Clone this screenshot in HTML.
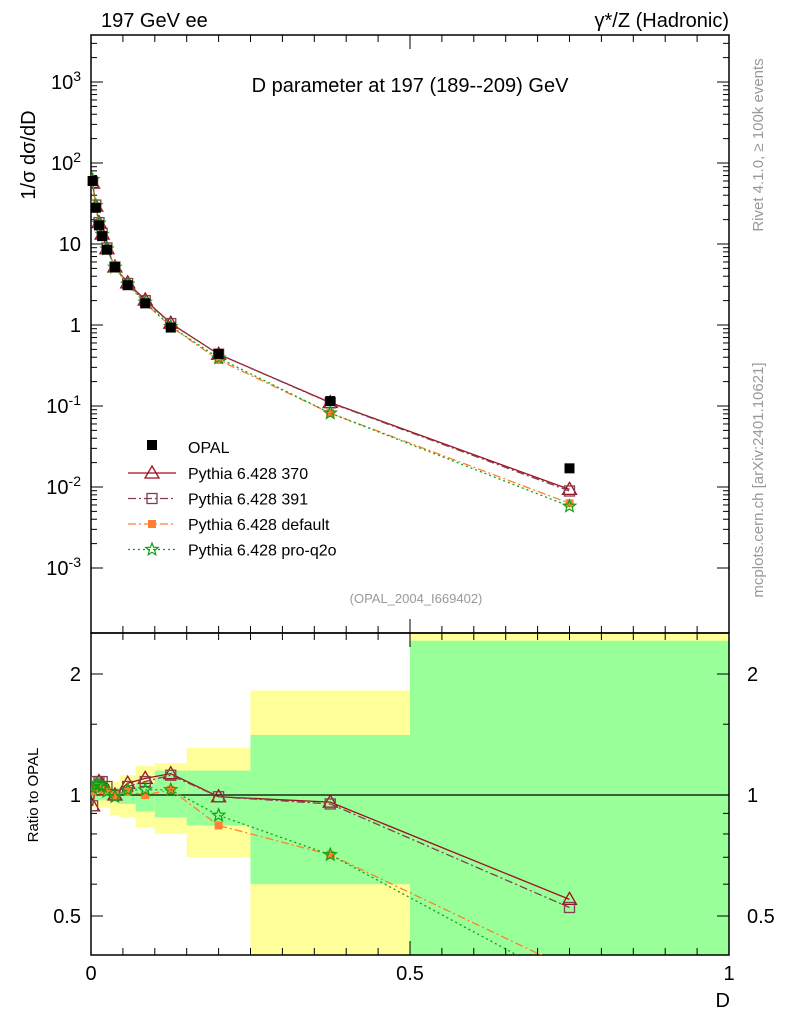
<!DOCTYPE html>
<html><head><meta charset="utf-8"><style>
body{margin:0;background:#fff;}
svg{display:block;font-family:"Liberation Sans",sans-serif;}
</style></head><body>
<svg id="s" width="786" height="1024"></svg>
<script>
const edges=[0,0.005,0.01,0.015,0.02,0.03,0.045,0.07,0.1,0.15,0.25,0.5,1];
const xs=[0.0025,0.0075,0.0125,0.0175,0.025,0.0375,0.0575,0.085,0.125,0.2,0.375,0.75];
const opal=[60,28,17,12.5,8.5,5.2,3.1,1.85,0.93,0.44,0.115,0.017];
const r370=[0.94,1.05,1.08,1.06,1.03,1.0,1.07,1.1,1.13,0.99,0.96,0.55];
const r391=[0.94,1.08,1.08,1.08,1.05,1.0,1.05,1.08,1.12,0.99,0.95,0.525];
const rdef=[1.02,1.04,1.05,1.03,1.02,1.0,1.02,1.0,1.03,0.84,0.71,0.37];
const rq2o=[1.04,1.06,1.06,1.05,1.02,0.99,1.03,1.03,1.03,0.89,0.71,0.34];
const bandYLo=[0.93,0.93,0.93,0.93,0.93,0.89,0.88,0.83,0.8,0.7,0.3,0.3];
const bandYHi=[1.08,1.08,1.08,1.08,1.08,1.08,1.12,1.18,1.2,1.31,1.82,3];
const bandGLo=[0.97,0.97,0.97,0.97,0.97,0.96,0.95,0.91,0.88,0.84,0.6,0.3];
const bandGHi=[1.04,1.04,1.04,1.04,1.04,1.04,1.05,1.07,1.15,1.15,1.41,2.42];
const mainTicks=["10^-3","10^-2","10^-1","1","10","10^2","10^3"];

const S=document.getElementById('s');const NS='http://www.w3.org/2000/svg';
function el(t,a,p){const e=document.createElementNS(NS,t);for(const k in a)e.setAttribute(k,a[k]);(p||S).appendChild(e);return e;}
const X=v=>91+v*638;
const Ym=v=>325-81*Math.log10(v);
const Yr=v=>795-121*Math.log2(v);
const X0=91,X1=729,T=35,M=633,B=955;
const gb=el('g',{});
const cp=el('clipPath',{id:'rc'});el('rect',{x:X0,y:M,width:X1-X0,height:B-M},cp);
const cpm=el('clipPath',{id:'mc'});el('rect',{x:X0,y:T,width:X1-X0,height:M-T},cpm);
gb.setAttribute('clip-path','url(#rc)');
for(let i=0;i<xs.length;i++){
 const r=el('rect',{x:X(edges[i]),y:Yr(bandYHi[i]),width:X(edges[i+1])-X(edges[i]),height:Yr(bandYLo[i])-Yr(bandYHi[i]),fill:'#ffff99'},gb);
 
 const g=el('rect',{x:X(edges[i]),y:Yr(bandGHi[i]),width:X(edges[i+1])-X(edges[i]),height:Yr(bandGLo[i])-Yr(bandGHi[i]),fill:'#99ff99'},gb);
 
}
el('line',{x1:X0,x2:X1,y1:Yr(1),y2:Yr(1),stroke:'#000','stroke-width':1.2});
el('rect',{x:X0,y:T,width:X1-X0,height:M-T,fill:'none',stroke:'#000','stroke-width':1.5});
el('rect',{x:X0,y:M,width:X1-X0,height:B-M,fill:'none',stroke:'#000','stroke-width':1.5});
for(let d=-3;d<=3;d++){
 for(let m=1;m<10;m++){const v=m*Math.pow(10,d);const y=Ym(v);if(y<T||y>M)continue;const L=m==1?12:6;
  el('line',{x1:X0,x2:X0+L,y1:y,y2:y,stroke:'#000'});el('line',{x1:X1,x2:X1-L,y1:y,y2:y,stroke:'#000'});}
 const y=Ym(Math.pow(10,d));const lab=mainTicks[d+3];
 const t=el('text',{x:81,y:y+7,'text-anchor':'end','font-size':20});
 
 if(lab.indexOf('^')>0){const p=lab.split('^');t.textContent=p[0];const s=el('tspan',{dy:-8,'font-size':14},t);s.textContent=p[1];}
 else t.textContent=lab;
}
for(const v of [0.5,0.6,0.7,0.8,0.9,1,1.5,2]){const y=Yr(v);const L=(v==0.5||v==1||v==2)?12:6;
 el('line',{x1:X0,x2:X0+L,y1:y,y2:y,stroke:'#000'});el('line',{x1:X1,x2:X1-L,y1:y,y2:y,stroke:'#000'});}
for(const v of [0.5,1,2]){const t=el('text',{x:81,y:Yr(v)+7,'text-anchor':'end','font-size':20});t.textContent=String(v);
 
 const t2=el('text',{x:747,y:Yr(v)+7,'font-size':20});t2.textContent=String(v);
 }
for(let i=0;i<=20;i++){const v=i*0.05;const x=X(v);const L=i%10==0?14:7;
 el('line',{x1:x,x2:x,y1:B,y2:B-L,stroke:'#000'});el('line',{x1:x,x2:x,y1:M,y2:M-L,stroke:'#000'});el('line',{x1:x,x2:x,y1:T,y2:T+L,stroke:'#000'});el('line',{x1:x,x2:x,y1:M,y2:M+L,stroke:'#000'});}
for(const v of [0,0.5,1]){const t=el('text',{x:X(v),y:980,'text-anchor':'middle','font-size':20});t.textContent=String(v);
 }
function marker(type,x,y,col,g){
 if(type=='sq')el('rect',{x:x-5,y:y-5,width:10,height:10,fill:'#000'},g);
 if(type=='tri')el('path',{d:`M${x},${y-7}L${x+7},${y+5}L${x-7},${y+5}Z`,fill:'none',stroke:col,'stroke-width':1.3},g);
 if(type=='osq')el('rect',{x:x-5,y:y-5,width:10,height:10,fill:'none',stroke:col,'stroke-width':1.3},g);
 if(type=='fsq')el('rect',{x:x-4,y:y-4,width:8,height:8,fill:col},g);
 if(type=='star'){let d='';for(let k=0;k<10;k++){const r=k%2?2.8:6.5,a=-Math.PI/2+k*Math.PI/5;d+=(k?'L':'M')+(x+r*Math.cos(a)).toFixed(1)+','+(y+r*Math.sin(a)).toFixed(1);}el('path',{d:d+'Z',fill:'none',stroke:col,'stroke-width':1.2},g);}
}
const series=[
 {n:'Pythia 6.428 370',r:r370,c:'#a01020',dash:'',m:'tri'},
 {n:'Pythia 6.428 391',r:r391,c:'#804050',dash:'8,3,2,3',m:'osq'},
 {n:'Pythia 6.428 default',r:rdef,c:'#ff8030',dash:'8,3,2,3',m:'fsq'},
 {n:'Pythia 6.428 pro-q2o',r:rq2o,c:'#10a010',dash:'2,3',m:'star'}];
series.forEach(s=>{
 const gm=el('g',{'clip-path':'url(#mc)'});
 const gr=el('g',{'clip-path':'url(#rc)'});
 el('polyline',{points:xs.map((x,i)=>X(x)+','+Ym(opal[i]*s.r[i])).join(' '),fill:'none',stroke:s.c,'stroke-width':1.3,'stroke-dasharray':s.dash},gm);
 el('polyline',{points:xs.map((x,i)=>X(x)+','+Yr(s.r[i])).join(' '),fill:'none',stroke:s.c,'stroke-width':1.3,'stroke-dasharray':s.dash},gr);
 xs.forEach((x,i)=>{marker(s.m,X(x),Ym(opal[i]*s.r[i]),s.c,gm);marker(s.m,X(x),Yr(s.r[i]),s.c,gr);});
});
const go=el('g',{});
xs.forEach((x,i)=>marker('sq',X(x),Ym(opal[i]),'#000',go));
const lg=el('g',{});
el('rect',{x:147,y:440,width:10,height:10,fill:'#000'},lg);
let t=el('text',{x:188,y:453,'font-size':16},lg);t.textContent='OPAL';
series.forEach((s,k)=>{const y=473+k*25.5;
 el('line',{x1:128,x2:176,y1:y,y2:y,stroke:s.c,'stroke-width':1.3,'stroke-dasharray':s.dash},lg);
 marker(s.m,152,y,s.c,lg);
 const tt=el('text',{x:188,y:y+6,'font-size':16},lg);tt.textContent=s.n;
 });
function tx(x,y,s,txt,name,extra){const e=el('text',Object.assign({x:x,y:y,'font-size':s},extra||{}));e.textContent=txt;return e;}
tx(101,27,20,'197 GeV ee','header-left');
tx(729,27,20,'γ*/Z (Hadronic)','header-right',{'text-anchor':'end'});
tx(410,92,20,'D parameter at 197 (189--209) GeV','plot-title',{'text-anchor':'middle'});
tx(416,603,13,'(OPAL_2004_I669402)','analysis-id',{'text-anchor':'middle',fill:'#999'});
tx(730,1007,20,'D','x-axis-title',{'text-anchor':'end'});
tx(0,0,20,'1/σ  dσ/dD','y-axis-title',{transform:'translate(35,155) rotate(-90)','text-anchor':'middle'});
tx(0,0,15,'Ratio to OPAL','ratio-axis-title',{transform:'translate(38,795) rotate(-90)','text-anchor':'middle'});
tx(0,0,15,'Rivet 4.1.0, ≥ 100k events','rivet-label',{transform:'translate(763,145) rotate(-90)','text-anchor':'middle',fill:'#999'});
tx(0,0,15,'mcplots.cern.ch [arXiv:2401.10621]','mcplots-label',{transform:'translate(763,480) rotate(-90)','text-anchor':'middle',fill:'#999'});
</script>
</body></html>
